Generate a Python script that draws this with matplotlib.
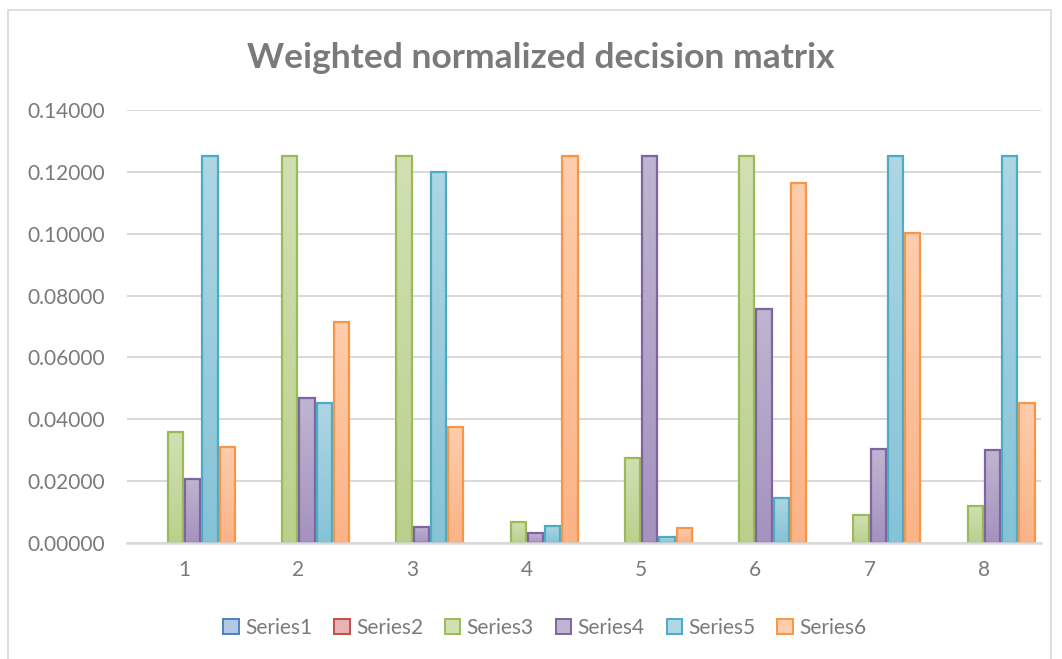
import numpy as np
import matplotlib.pyplot as plt
from matplotlib.colors import LinearSegmentedColormap
from matplotlib.patches import Rectangle

plt.rcParams['font.family'] = ['Lato', 'DejaVu Sans']

categories = ['1', '2', '3', '4', '5', '6', '7', '8']
series_names = ['Series1', 'Series2', 'Series3', 'Series4', 'Series5', 'Series6']
series1 = [0, 0, 0, 0, 0, 0, 0, 0]
series2 = [0, 0, 0, 0, 0, 0, 0, 0]
series3 = [0.0359, 0.1250, 0.1250, 0.0068, 0.0275, 0.1250, 0.0090, 0.0120]
series4 = [0.0207, 0.0469, 0.0052, 0.0032, 0.1250, 0.0757, 0.0304, 0.0300]
series5 = [0.1250, 0.0453, 0.1200, 0.0055, 0.0020, 0.0146, 0.1250, 0.1250]
series6 = [0.0310, 0.0714, 0.0375, 0.1250, 0.0048, 0.1164, 0.1002, 0.0453]
yticks = [0, 0.02, 0.04, 0.06, 0.08, 0.10, 0.12, 0.14]

all_series = [series1, series2, series3, series4, series5, series6]
# (edge, light top, dark bottom)
styles = [
    ('#4f81bd', '#b3c7e6', '#93aed6'),
    ('#c0504d', '#e8b3b2', '#d99493'),
    ('#9bbb59', '#d1e0b3', '#bbd08d'),
    ('#8064a2', '#bfb5d1', '#a592bf'),
    ('#4bacc6', '#aed6e3', '#86c3d7'),
    ('#f79646', '#fecdac', '#fbb387'),
]

fig = plt.figure(figsize=(10.62, 6.59), dpi=100)
ax = fig.add_axes([0.1196, 0.176, 0.8606, 0.657])

x = np.arange(len(categories))
pitch = 0.151
width = 0.132
grad = np.linspace(0, 1, 64).reshape(-1, 1)

for i, vals in enumerate(all_series):
    edge, top, bottom = styles[i]
    cmap = LinearSegmentedColormap.from_list('g%d' % i, [bottom, top])
    offs = (i - 2.5) * pitch
    for xi, v in zip(x, vals):
        if v <= 0:
            continue
        x0 = xi + offs - width / 2
        ax.imshow(grad, extent=[x0, x0 + width, 0, v], origin='lower',
                  cmap=cmap, aspect='auto', zorder=2, interpolation='bilinear')
        ax.add_patch(Rectangle((x0, 0), width, v, facecolor='none',
                               edgecolor=edge, linewidth=1.6, zorder=3))

ax.set_xlim(-0.5, len(categories) - 0.5)
ax.set_ylim(0, 0.14)
ax.set_yticks(yticks)
ax.set_yticklabels(['%.5f' % t for t in yticks])
ax.set_xticks(x)
ax.set_xticklabels(categories)
ax.tick_params(length=0, colors='#7a7a7a', labelsize=15)
ax.tick_params(axis='y', pad=16)
ax.tick_params(axis='x', pad=12)
ax.grid(axis='y', color='#d9d9d9', linewidth=1.4, zorder=0)
ax.set_axisbelow(True)
for s in ['top', 'right', 'left']:
    ax.spines[s].set_visible(False)
ax.spines['bottom'].set_color('#d9d9d9')
ax.spines['bottom'].set_linewidth(1.8)
ax.spines['bottom'].set_zorder(4)

fig.text(0.509, 0.912, 'Weighted normalized decision matrix', ha='center',
         va='center', fontsize=25.5, fontweight='bold', color='#7a7a7a')

handles = [Rectangle((0, 0), 1, 1, facecolor=s[1], edgecolor=s[0], linewidth=1.4)
           for s in styles]
fig.legend(handles, series_names, loc='center', bbox_to_anchor=(0.513, 0.047),
           ncol=6, frameon=False, fontsize=15, labelcolor='#7a7a7a',
           handlelength=0.75, handleheight=0.75, handletextpad=0.3, columnspacing=1.05)

fig.patches.append(Rectangle((8 / 1062, -0.01), 1043 / 1062, 649 / 659 + 0.01,
                             transform=fig.transFigure, facecolor='none',
                             edgecolor='#d9d9d9', linewidth=1.2))

fig.savefig('out.png', dpi=100)
